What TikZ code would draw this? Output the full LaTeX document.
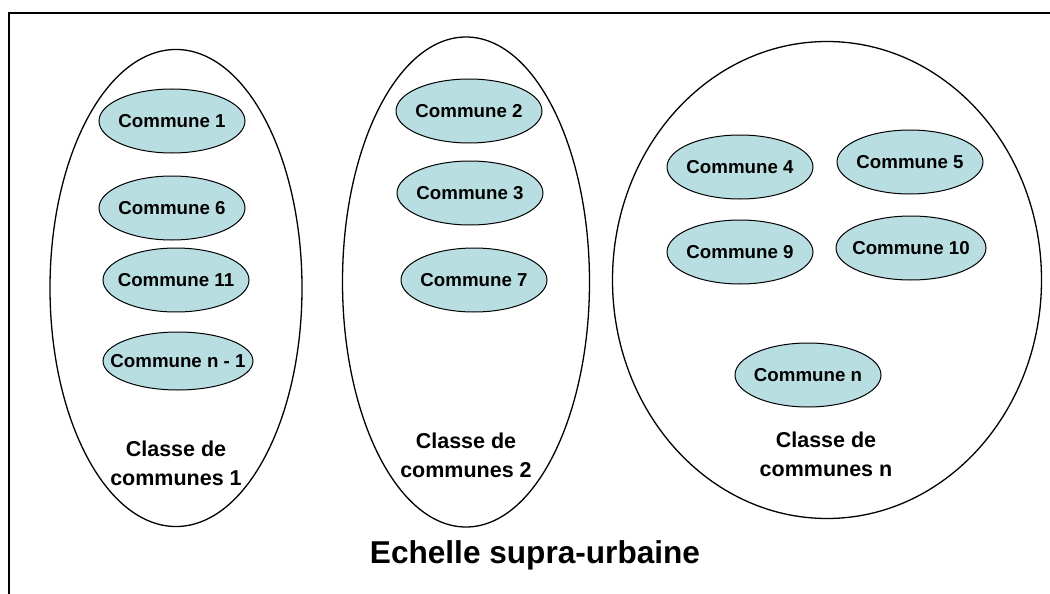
\documentclass[tikz,border=0pt]{standalone}
\usepackage{fontspec}
\setmainfont{Liberation Sans}
\usetikzlibrary{shapes.geometric}
\definecolor{communefill}{RGB}{185,222,226}

\begin{document}
\begin{tikzpicture}[x=1pt, y=-1pt,
  commune/.style={ellipse, draw, line width=1pt, fill=communefill, inner sep=0pt,
    minimum width=146pt, minimum height=64pt,
    label={[font=\fontsize{18.7}{22}\selectfont\bfseries]center:#1}},
  classe/.style={ellipse, draw, line width=1.3pt, inner sep=0pt},
  legende/.style={align=center, font=\fontsize{21.5}{29}\selectfont\bfseries}]

\useasboundingbox (0,0) rectangle (1050,594);
\draw[line width=1.2pt] (1050,13) -- (9,13) -- (9,594);

% classes
\node[classe, minimum width=252pt, minimum height=477pt] (classe1) at (176,288) {};
\node[classe, minimum width=247pt, minimum height=490pt] (classe2) at (466,282) {};
\node[classe, minimum width=429pt, minimum height=477pt] (classen) at (827,280) {};

% communes
\node[commune=Commune 1] (c1) at (172,121) {};
\node[commune=Commune 6] (c6) at (172,208) {};
\node[commune=Commune 11] (c11) at (176,280) {};
\node[commune=Commune n - 1, minimum width=150pt, minimum height=58pt] (cn1) at (178,361) {};

\node[commune=Commune 2] (c2) at (469,111) {};
\node[commune=Commune 3] (c3) at (470,193) {};
\node[commune=Commune 7] (c7) at (474,280) {};

\node[commune=Commune 4] (c4) at (740,167) {};
\node[commune=Commune 5] (c5) at (910,162) {};
\node[commune=Commune 9] (c9) at (740,252) {};
\node[commune=Commune 10, minimum width=150pt] (c10) at (911,248) {};
\node[commune=Commune n] (cn) at (808,375) {};

% legendes
\node[legende] (l1) at (176,463) {Classe de\\communes 1};
\node[legende] (l2) at (466,455) {Classe de\\communes 2};
\node[legende] (ln) at (826,454) {Classe de\\communes n};

\node[font=\fontsize{31.6}{36}\selectfont\bfseries] (echelle) at (535,555) {Echelle supra-urbaine};
\end{tikzpicture}
\end{document}
